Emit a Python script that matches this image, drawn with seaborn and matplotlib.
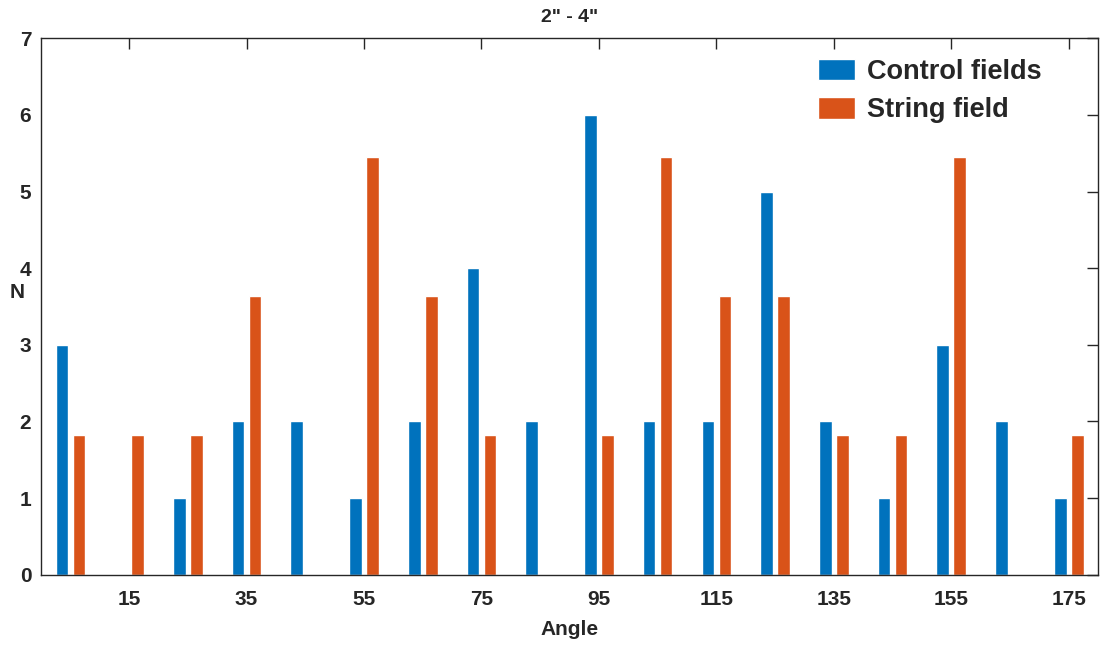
import pandas as pd
import seaborn as sns
import matplotlib.pyplot as plt

# histogram bin centres (degrees)
angles = [5, 15, 25, 35, 45, 55, 65, 75, 85, 95, 105, 115, 125, 135, 145, 155, 165, 175]
control_fields = [3, 0, 1, 2, 2, 1, 2, 4, 2, 6, 2, 2, 5, 2, 1, 3, 2, 1]
string_field = [1.82, 1.82, 1.82, 3.64, 0, 5.45, 3.64, 1.82, 0, 1.82,
                5.45, 3.64, 3.64, 1.82, 1.82, 5.45, 0, 1.82]
series_names = ['Control fields', 'String field']
tick_angles = [15, 35, 55, 75, 95, 115, 135, 155, 175]

df = pd.concat([
    pd.DataFrame({'Angle': angles, 'N': control_fields, 'group': series_names[0]}),
    pd.DataFrame({'Angle': angles, 'N': string_field, 'group': series_names[1]}),
], ignore_index=True)

sns.set_style('white')
plt.rcParams['font.family'] = ['Liberation Sans', 'DejaVu Sans']
plt.rcParams['font.weight'] = 'bold'
plt.rcParams['axes.labelweight'] = 'bold'
plt.rcParams['axes.titleweight'] = 'bold'

fig = plt.figure(figsize=(11.18, 6.48), dpi=100)
ax = fig.add_axes([0.0367, 0.113, 0.9455, 0.828])

sns.barplot(data=df, x='Angle', y='N', hue='group', native_scale=True,
            width=0.58, gap=0.26, errorbar=None,
            palette=['#0072BD', '#D95319'], saturation=1, ax=ax)

ax.set_xlim(0, 180)
ax.set_ylim(0, 7)
ax.set_xticks(tick_angles)
ax.set_yticks(range(0, 8))
ax.tick_params(direction='in', length=8, width=1, top=True, right=True,
               labeltop=False, labelright=False, labelsize=15,
               colors='#262626')
ax.tick_params(axis='x', pad=11)
ax.tick_params(axis='y', pad=7)
for lab in ax.get_xticklabels() + ax.get_yticklabels():
    lab.set_fontweight('bold')
for sp in ax.spines.values():
    sp.set_visible(True)
    sp.set_color('#262626')
    sp.set_linewidth(1)

ax.set_title('2" - 4"', fontsize=14, fontweight='bold', pad=12)
ax.set_xlabel('Angle', fontsize=15, fontweight='bold', color='#262626', labelpad=8)
ax.set_ylabel('N', fontsize=15, fontweight='bold', color='#262626', rotation=0,
              ha='center', va='center')
ax.yaxis.set_label_coords(-0.023, 0.527)

sns.move_legend(ax, 'upper right', title=None, frameon=False,
                prop={'size': 19.5, 'weight': 'bold'},
                handlelength=1.36, handleheight=0.87, handletextpad=0.45,
                labelspacing=0.45, borderaxespad=0.35, bbox_to_anchor=(0.966, 1.0))

fig.savefig('out.png', dpi=100)
